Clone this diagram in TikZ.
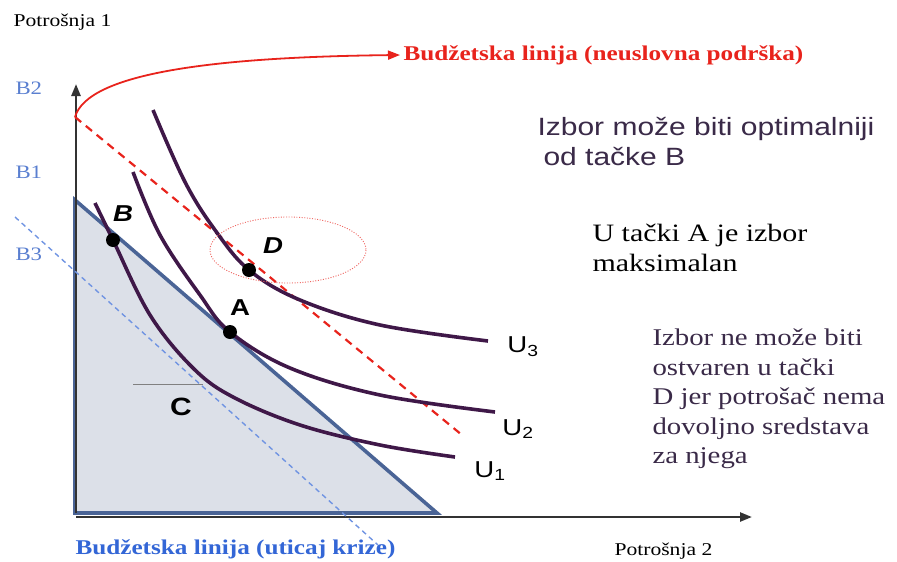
\documentclass[tikz,border=0pt]{standalone}
\usepackage{fontspec}
\setmainfont{Liberation Serif}[FakeStretch=1.2]
\setsansfont{Liberation Sans}[FakeStretch=1.2]
\usetikzlibrary{arrows.meta}

\definecolor{ucurve}{HTML}{3F1848}
\definecolor{budget}{HTML}{4A6496}
\definecolor{shade}{HTML}{DCE0E8}
\definecolor{bred}{HTML}{E8231C}
\definecolor{bblue}{HTML}{3366D6}
\definecolor{blabel}{HTML}{5A7FD0}
\definecolor{note}{HTML}{3A2A48}

\begin{document}
\begin{tikzpicture}[x=1pt, y=-1pt,
    curve/.style={ucurve, line width=3.6pt},
    dot/.style={circle, fill=black, inner sep=0pt, minimum size=14pt},
    ptlabel/.style={font=\sffamily\bfseries\itshape\fontsize{23}{23}\selectfont},
    ulabel/.style={font=\sffamily\fontsize{23}{23}\selectfont},
    blab/.style={blabel, anchor=west, font=\fontsize{19}{19}\selectfont},
    axis/.style={line width=2.4pt, black!80, -{Triangle[length=12pt, width=9pt]}}]
\useasboundingbox (0,0) rectangle (897,562);

% budget set
\filldraw[fill=shade, draw=budget, line width=3.6pt] (75,200) -- (75,513) -- (437,513) -- cycle;
\draw[gray, line width=0.7pt] (133,384) -- (203,384);

% axes
\coordinate (O) at (76,517);
\coordinate (ytop) at (76,84);
\coordinate (xend) at (752,517);
\draw[axis] (76,513) -- (ytop);
\draw[axis] (O) -- (xend);

% budget lines
\coordinate (b2) at (75,117);
\coordinate (b2end) at (462,435);
\coordinate (b3) at (15,217);
\coordinate (b3end) at (378,545);
\draw[bred, line width=2.2pt, dash pattern=on 8pt off 6pt] (b2) -- (b2end);
\draw[bblue!70, line width=1.4pt, dash pattern=on 5pt off 4pt] (b3) -- (b3end);

% indifference curves
\draw[curve] plot[smooth, tension=0.6] coordinates {(95,203) (113,240) (150,315) (193,368) (233,397) (300,425) (380,445) (455,457)};
\draw[curve] plot[smooth, tension=0.6] coordinates {(133,172) (160,235) (200,295) (230,332) (290,368) (380,395) (495,412)};
\draw[curve] plot[smooth, tension=0.6] coordinates {(153,110) (185,182) (215,230) (249,270) (300,300) (380,325) (488,341)};

\draw[bred!70, line width=0.9pt, dash pattern=on 1pt off 1.6pt] (288,250) ellipse [x radius=78, y radius=33];

\node[dot] (B) at (113,240) {};
\node[dot] (A) at (230,332) {};
\node[dot] (D) at (249,270) {};
\node[ptlabel] at (123,214) {B};
\node[ptlabel] at (273,246) {D};
\node[ptlabel, font=\sffamily\bfseries\fontsize{23}{23}\selectfont] at (240,308) {A};
\node[ptlabel, font=\sffamily\bfseries\fontsize{25}{25}\selectfont] at (181,407) {C};

\node[ulabel] (u3) at (523,347) {U\textsubscript{3}};
\node[ulabel] (u2) at (518,429) {U\textsubscript{2}};
\node[ulabel] (u1) at (490,471) {U\textsubscript{1}};

% axis texts
\node[anchor=west, font=\fontsize{18}{18}\selectfont] (p1) at (10,22) {Potrošnja 1};
\node[anchor=west, font=\fontsize{18}{18}\selectfont] (p2) at (611,551) {Potrošnja 2};
\node[blab] (lb2) at (12,88) {B2};
\node[blab] (lb1) at (12,172) {B1};
\node[blab] (lb3) at (12,254) {B3};

\node[anchor=west, bred, font=\bfseries\fontsize{21}{21}\selectfont] (title) at (400,55) {Budžetska linija (neuslovna podrška)};
\node[anchor=west, bblue, font=\bfseries\fontsize{21}{21}\selectfont] (crisis) at (72,549) {Budžetska linija (uticaj krize)};
\draw[bred, line width=1.8pt, -{Triangle[length=12pt, width=9pt]}] (b2) .. controls (88,72) and (220,57) .. (title.west);

% notes
\node[anchor=west, note, align=left, font=\sffamily\fontsize{25}{30}\selectfont] (n1) at (534,142) {Izbor može biti optimalniji\\\hspace{6pt}od tačke B};
\node[anchor=west, align=left, font=\fontsize{25}{30}\selectfont] (n2) at (589,248) {U tački A je izbor\\maksimalan};
\node[anchor=west, note, align=left, font=\fontsize{24}{29.5}\selectfont] (n3) at (649,399) {Izbor ne može biti\\ostvaren u tački\\D jer potrošač nema\\dovoljno sredstava\\za njega};
\end{tikzpicture}
\end{document}
